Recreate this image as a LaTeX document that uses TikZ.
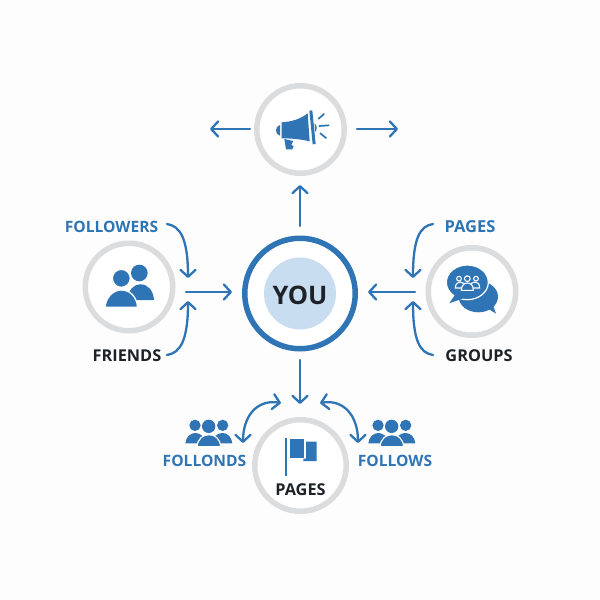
\documentclass[tikz,border=0pt]{standalone}
\usepackage{fontspec}
\setmainfont{Open Sans}
\usetikzlibrary{arrows.meta}
\definecolor{bl}{HTML}{2F75B5}
\definecolor{gr}{HTML}{DBDCDD}
\definecolor{dk}{HTML}{1E2228}
\definecolor{pale}{HTML}{C9DDF0}
\definecolor{bg}{HTML}{FDFDFD}
\tikzset{
  ringnode/.style={circle,draw=gr,line width=5.5pt,fill=white,minimum size=87.5pt,inner sep=0pt},
  youring/.style={circle,draw=bl,line width=5.5pt,fill=white,minimum size=110.5pt,inner sep=0pt},
  youdisc/.style={circle,fill=pale,minimum size=72pt,inner sep=0pt},
  youlabel/.style={inner sep=0pt,font=\bfseries\fontsize{25.5}{26}\selectfont,text=dk},
  bluelabel/.style={inner sep=0pt,text=bl,font=\bfseries\fontsize{15.6}{16}\selectfont},
  darklabel/.style={inner sep=0pt,text=dk,font=\bfseries\fontsize{16.3}{17}\selectfont},
  link/.style={draw=bl,line width=2.3pt,line cap=round,-{Straight Barb[length=7pt,width=15pt,line width=2.3pt,round]}},
  dlink/.style={draw=bl,line width=2.3pt,line cap=round,{Straight Barb[length=7pt,width=15pt,line width=2.3pt,round]}-{Straight Barb[length=7pt,width=15pt,line width=2.3pt,round]}},
}
\newcommand{\threepeople}[2]{%
  \begin{scope}[shift={(#1,#2)},scale=1/3]
    \fill[bl] (135,211) circle[radius=17];
    \fill[bl] (218,211) circle[radius=17];
    \fill[bl] (106,265) .. controls (108,245) and (122,234) .. (136,234) .. controls (150,234) and (165,245) .. (168,265) -- cycle;
    \fill[bl] (185,265) .. controls (188,245) and (203,234) .. (217,234) .. controls (232,234) and (245,245) .. (247,265) -- cycle;
    \fill[bl,draw=bg,line width=1.2pt] (141,275) .. controls (143,252) and (158,239) .. (177,239) .. controls (196,239) and (210,252) .. (212,275) -- cycle;
    \fill[bl] (176,214) circle[radius=20];
  \end{scope}}
\begin{document}
\begin{tikzpicture}[x=1pt,y=-1pt]
\fill[bg] (0,0) rectangle (600,600);
\useasboundingbox (0,0) rectangle (600,600);

% rings
\node[ringnode] (top) at (300.5,129.5) {};
\node[ringnode] (left) at (129,287) {};
\node[ringnode] (right) at (472,291.5) {};
\node[ringnode,minimum size=91.5pt] (bottom) at (300.5,465.5) {};
\node[youring] (you) at (300,293.5) {};
\node[youdisc] (youdot) at (300,293.5) {};
\node[youlabel] (youtext) at (300,295) {YOU};

% labels
\node[bluelabel] (followers) at (111.5,226.7) {FOLLOWERS};
\node[darklabel] (friends) at (127,356) {FRIENDS};
\node[bluelabel,font=\bfseries\fontsize{16.5}{17}\selectfont] (pagesr) at (470,226.7) {PAGES};
\node[darklabel] (groups) at (479,356) {GROUPS};
\node[bluelabel] (follonds) at (204.5,460.5) {FOLLONDS};
\node[bluelabel] (follows) at (395,460.5) {FOLLOWS};
\node[darklabel] (pagesb) at (300.5,490) {PAGES};

% connector ends
\coordinate (tl) at (250,129); \coordinate (tlend) at (210,129);
\coordinate (tr) at (357,129); \coordinate (trend) at (398,129);
\coordinate (up) at (300,226); \coordinate (upend) at (300,185);
\coordinate (lm) at (186,292); \coordinate (lmend) at (232,292);
\coordinate (rm) at (415,292); \coordinate (rmend) at (368,292);
\coordinate (dn) at (300,360); \coordinate (dnend) at (300,404);
\coordinate (fa) at (167,224); \coordinate (fb) at (188,278);
\coordinate (ga) at (167,355); \coordinate (gb) at (188,301);
\coordinate (pa) at (433,224); \coordinate (pb) at (413,278);
\coordinate (qa) at (433,355); \coordinate (qb) at (413,301);
\coordinate (ba) at (281,403); \coordinate (bb) at (243,443);
\coordinate (ca) at (320,403); \coordinate (cb) at (358,443);

\draw[link] (tl) -- (tlend);
\draw[link] (tr) -- (trend);
\draw[link] (up) -- (upend);
\draw[link] (lm) -- (lmend);
\draw[link] (rm) -- (rmend);
\draw[link] (dn) -- (dnend);
\draw[link] (fa) .. controls (180,226) and (188,238) .. (fb);
\draw[link] (ga) .. controls (180,353) and (188,341) .. (gb);
\draw[link] (pa) .. controls (420,226) and (413,238) .. (pb);
\draw[link] (qa) .. controls (420,353) and (413,341) .. (qb);
\draw[dlink] (ba) .. controls (258,399) and (243,415) .. (bb);
\draw[dlink] (ca) .. controls (343,399) and (358,415) .. (cb);

% megaphone
\begin{scope}[shift={(190,70)},scale=1/3]
  \fill[bl] (270,165) .. controls (254,168) and (254,194) .. (270,197) -- cycle;
  \fill[bl] (275,157) .. controls (305,155) and (330,148) .. (353,130) -- (359,214) .. controls (335,208) and (305,205) .. (275,205) -- cycle;
  \fill[bl] (283,207) -- (310,213) -- (304,225) -- (311,228) -- (307,238) -- (288,238) -- cycle;
  \fill[bl] (358,122) -- (367,121) -- (377,222) -- (368,223) -- cycle;
  \fill[bl] (374,160) .. controls (382,166) and (382,180) .. (375,186) -- cycle;
  \draw[bl,line width=1.7pt,line cap=round] (386,146) -- (402,132);
  \draw[bl,line width=1.7pt,line cap=round] (388,168) -- (416,166);
  \draw[bl,line width=1.7pt,line cap=round] (391,190) -- (408,204);
\end{scope}

% two people
\begin{scope}[shift={(50,205)},scale=1/3]
  \fill[bl] (268,204) circle[radius=25];
  \fill[bl] (232,285) .. controls (235,255) and (250,238) .. (272,238) .. controls (295,238) and (310,258) .. (312,285) -- cycle;
  \fill[bl,draw=white,line width=1.3pt] (214,220) circle[radius=27];
  \fill[bl,draw=white,line width=1.3pt] (165,307) .. controls (168,275) and (190,255) .. (214,255) .. controls (240,255) and (260,275) .. (263,307) -- cycle;
\end{scope}

% chat bubbles
\begin{scope}[shift={(350,205)},scale=1/3]
  \fill[bl] (385,275) ellipse[x radius=59,y radius=47];
  \fill[bl] (405,305) -- (438,326) -- (425,290) -- cycle;
  \fill[bl,draw=white,line width=1.2pt] (352,232) ellipse[x radius=63,y radius=52];
  \fill[bl] (318,265) -- (298,295) -- (345,278) -- cycle;
  \draw[white,line width=1.1pt,fill=bl] (316,249) .. controls (316,235) and (325,231) .. (331,231) .. controls (337,231) and (345,235) .. (345,249) -- cycle;
  \draw[white,line width=1.1pt,fill=bl] (360,249) .. controls (360,235) and (368,231) .. (374,231) .. controls (382,231) and (389,235) .. (389,249) -- cycle;
  \draw[white,line width=1.1pt] (327,221) circle[radius=7];
  \draw[white,line width=1.1pt] (378,221) circle[radius=7];
  \draw[white,line width=1.1pt,fill=bl] (334,256) .. controls (334,240) and (344,234) .. (352,234) .. controls (362,234) and (370,240) .. (370,256) -- cycle;
  \draw[white,line width=1.1pt] (352,221) circle[radius=8.5];
\end{scope}

% flag
\begin{scope}[shift={(150,355)},scale=1/3]
  \draw[bl,line width=1.7pt] (409,248) -- (409,362);
  \fill[bl] (419,252) rectangle (462,308);
  \fill[bl] (468,260) -- (500,260) -- (500,318) -- (460,318) -- (460,311) -- (468,311) -- cycle;
\end{scope}

\threepeople{150}{355}
\threepeople{333}{355}
\end{tikzpicture}
\end{document}
